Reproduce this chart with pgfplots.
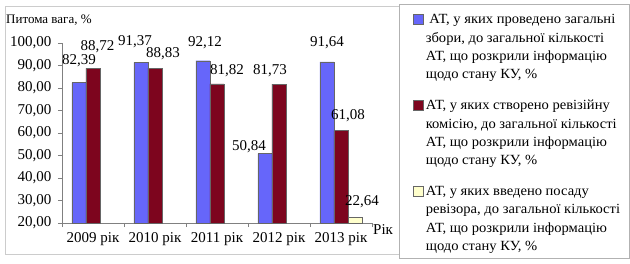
\documentclass[border=0pt]{standalone}
\usepackage{fontspec}
\setmainfont{Liberation Serif}
\newfontfamily\tnr{Liberation Serif}
\newfontfamily\tnrw{Liberation Serif}[FakeStretch=1.04]
\usepackage{pgfplots}
\pgfplotsset{compat=1.18}
\usepackage{pgfplotstable}
\definecolor{cblue}{RGB}{102,102,250}
\definecolor{cred}{RGB}{125,5,30}
\definecolor{cyel}{RGB}{255,255,204}
\pgfplotstableread{
x y dx dy
0 82.39 0 21.6
1 91.37 -6 21
2 92.12 2 18
3 50.84 -16 7
4 91.64 0 19
}\blue
\pgfplotstableread{
x y dx dy
0 88.72 4.5 22
1 88.83 8 14
2 81.82 10 13
3 81.73 -9 13
4 61.08 7 15
}\red
\pgfplotstableread{
x y dx dy
4 22.64 7 15
}\yel
\begin{document}
\tnr
\begin{tikzpicture}
\useasboundingbox (0,0) rectangle (630pt,263pt);
\draw[gray!40] (5pt,9pt) rectangle (629pt,257pt);
\draw[gray!60, fill=white] (399pt,5pt) rectangle (629pt,259pt);
\begin{axis}[
  at={(62pt,40pt)}, anchor=south west,
  scale only axis, width=310pt, height=180pt,
  xmin=-0.5, xmax=4.5, ymin=20, ymax=100,
  ybar=0pt, bar width=14pt,
  axis lines*=left,
  axis line style={gray},
  xtick={0,1,2,3,4},
  xticklabels={2009 рік,2010 рік,2011 рік,2012 рік,2013 рік},
  minor xtick={-0.5,0.5,1.5,2.5,3.5,4.5},
  major x tick style={draw=none},
  ytick={20,30,...,100},
  tick align=outside, major tick length=4pt, minor tick length=4pt,
  tick style={gray},
  /pgf/number format/assume math mode=true,
  yticklabel={\pgfmathprintnumber[fixed,zerofill,precision=2,use comma]{\tick}},
  tick label style={font=\tnr\fontsize{15}{18}\selectfont},
  xticklabel style={yshift=-2pt},
  yticklabel style={xshift=-3pt},
  clip=false,
  nodes near coords={\pgfmathprintnumber[fixed,zerofill,precision=2,use comma,assume math mode=true]{\pgfplotspointmeta}},
  visualization depends on={\thisrow{dx}\as\dx},
  visualization depends on={\thisrow{dy}\as\dy},
  every node near coord/.append style={anchor=center, xshift=\dx pt, yshift=\dy pt, font=\tnr\fontsize{15}{18}\selectfont, text=black},
  legend style={at={(axis description cs:1.133,1.17)}, anchor=north west, draw=none, fill=none,
    font=\tnrw\fontsize{14}{18.3}\selectfont, cells={anchor=west, align=left}, row sep=16pt, inner sep=0pt},
  legend image code/.code={\draw[#1] (0pt,23pt) rectangle (10pt,33pt);},
]
\addplot[fill=cblue, draw=black!60] table[x=x,y=y] {\blue};
\addlegendentry{\ АТ, у яких проведено загальні\\збори, до загальної кількості\\АТ, що розкрили інформацію\\щодо стану КУ, \%}
\addplot[fill=cred, draw=black!60] table[x=x,y=y] {\red};
\addlegendentry{АТ, у яких створено ревізійну\\комісію, до загальної кількості\\АТ, що розкрили інформацію\\щодо стану КУ, \%}
\addplot[fill=cyel, draw=black!60] table[x=x,y=y] {\yel};
\addlegendentry{АТ, у яких введено посаду\\ревізора, до загальної кількості\\АТ, що розкрили інформацію\\щодо стану КУ, \%}
\end{axis}
\node[anchor=west, inner sep=0pt, font=\tnr\fontsize{13}{16}\selectfont] at (6pt,243pt) {Питома вага, \%};
\node[anchor=west, inner sep=0pt, font=\tnr\fontsize{15}{16}\selectfont] at (373pt,33pt) {Рік};
\end{tikzpicture}
\end{document}
